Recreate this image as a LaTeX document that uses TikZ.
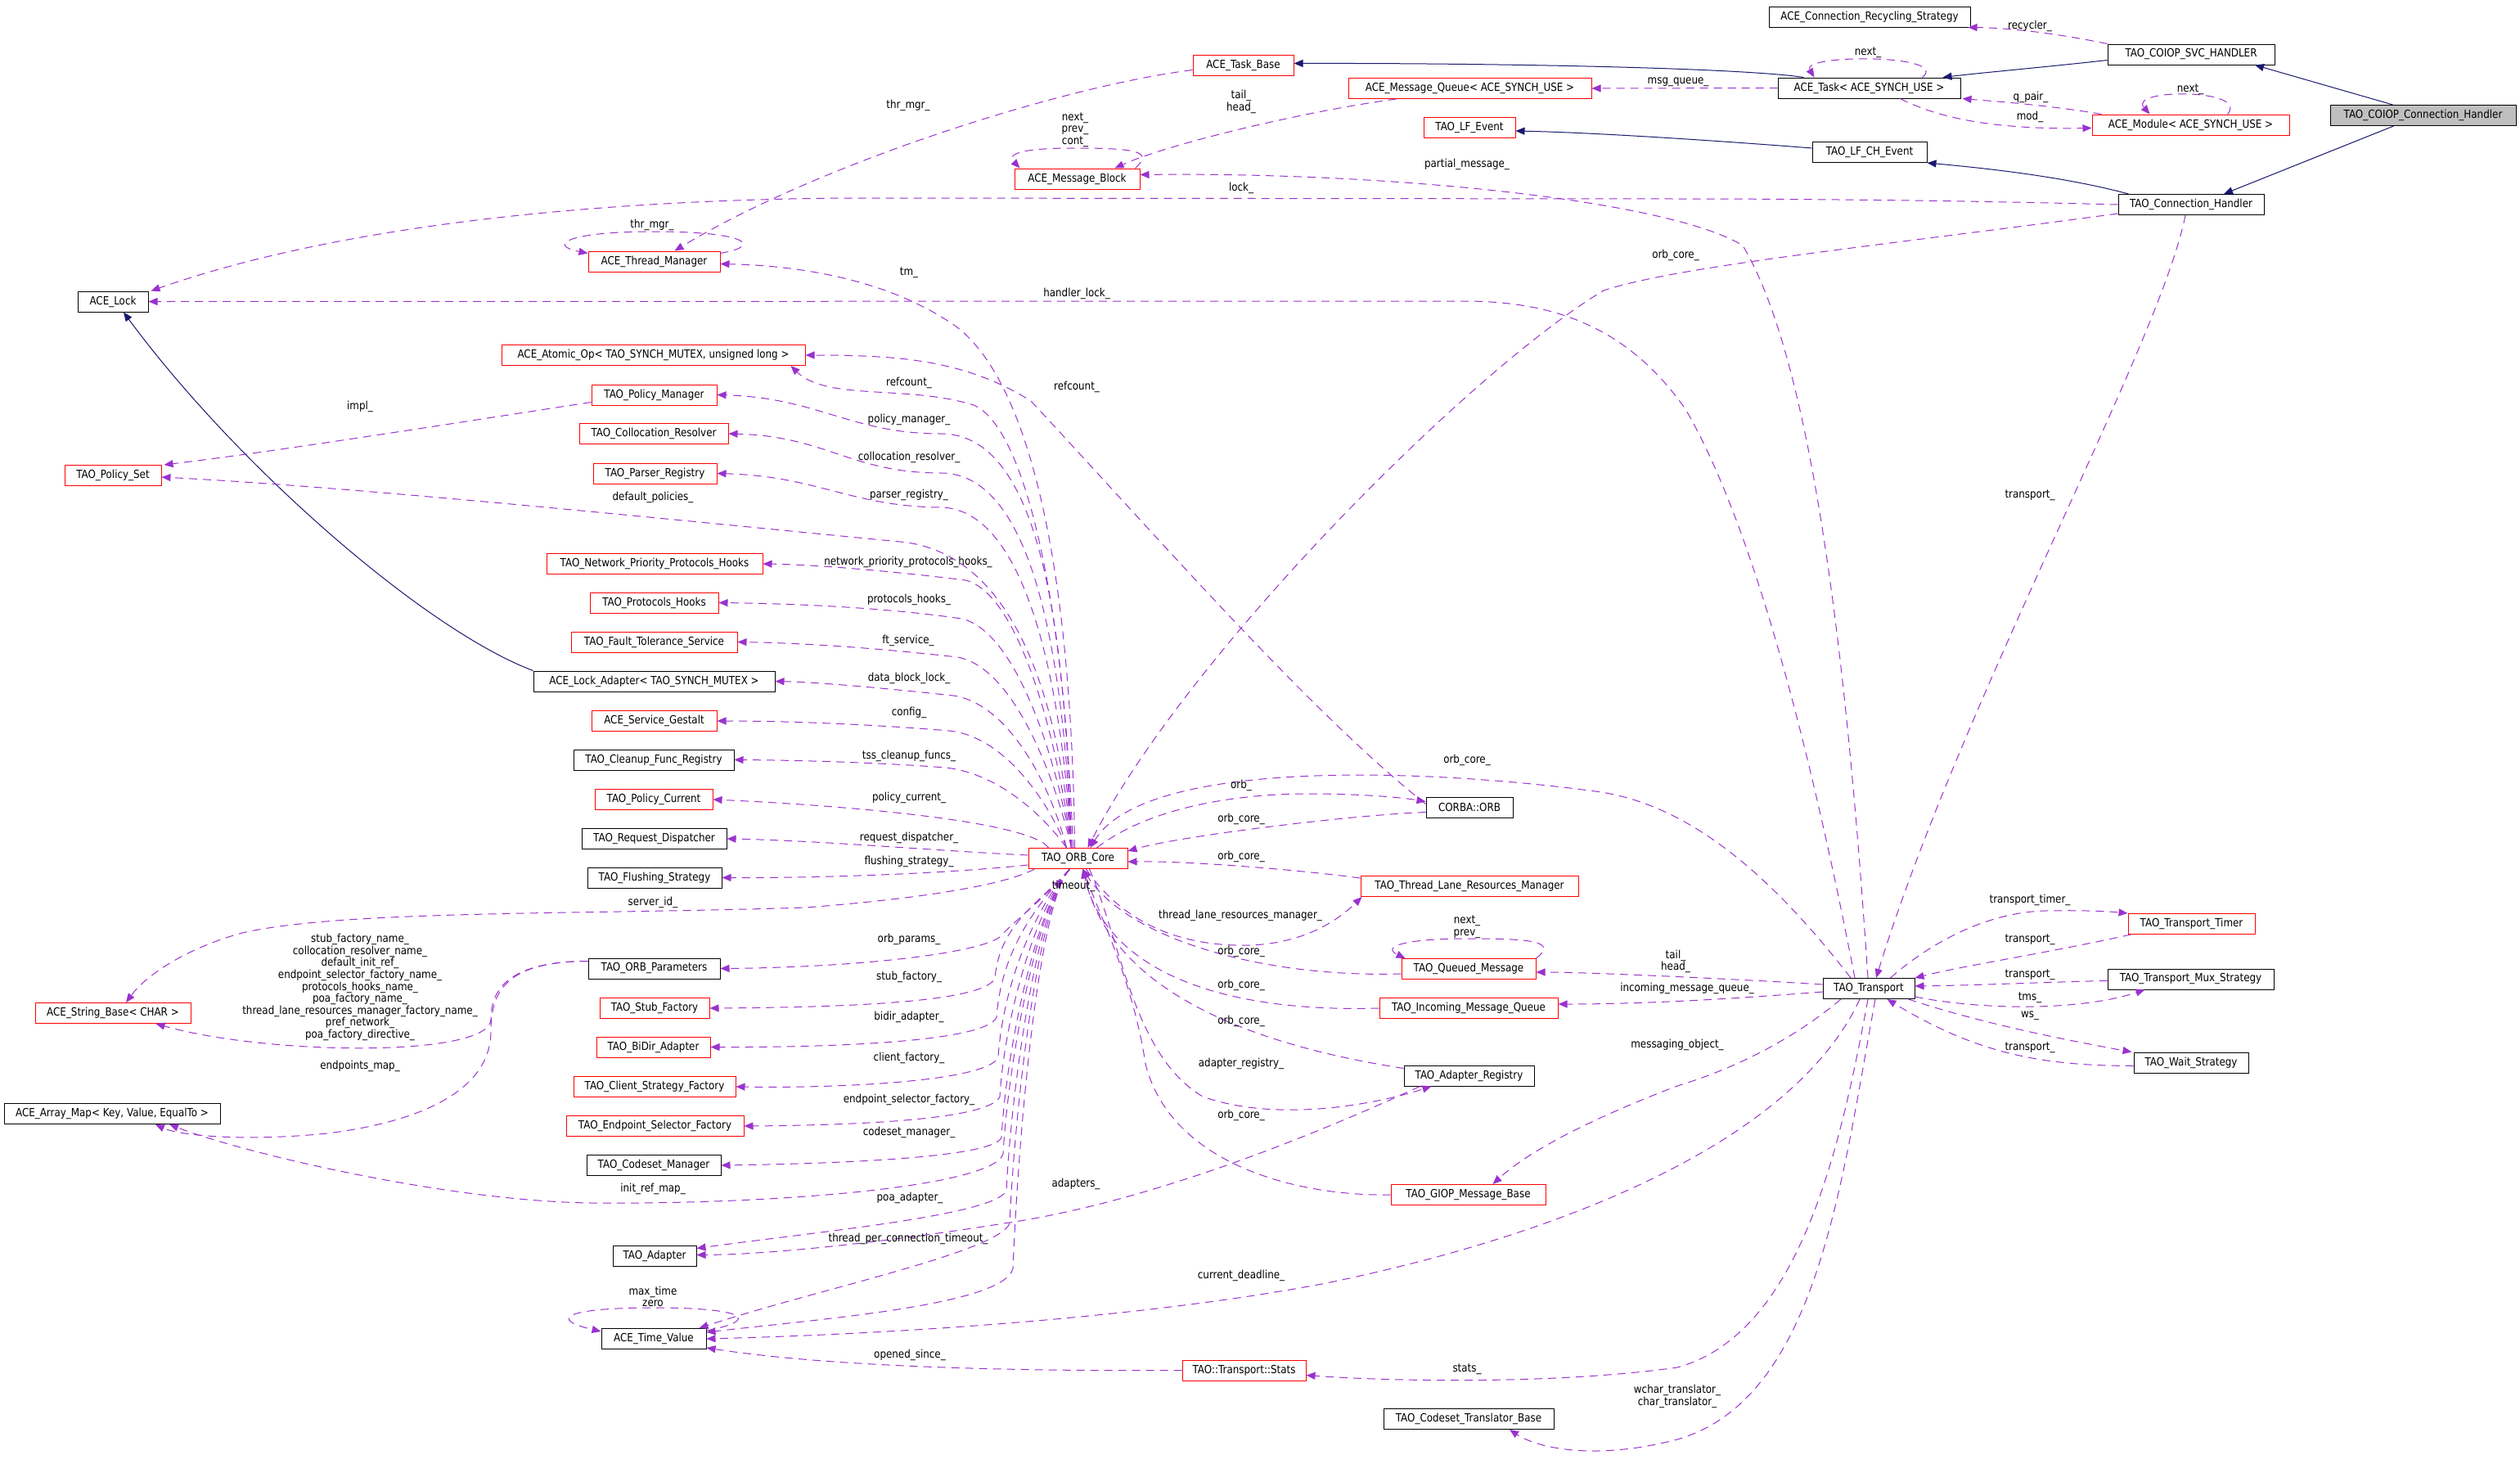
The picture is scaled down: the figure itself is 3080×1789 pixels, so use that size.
\documentclass[tikz,border=0pt]{standalone}
\usepackage{fontspec}
\newfontfamily\dvs[FakeStretch=0.87]{DejaVu Sans}
\newcommand\lbl{\fontsize{6.85pt}{7.3pt}\dvs}
\usetikzlibrary{arrows.meta,calc}
\definecolor{dorch}{HTML}{9A32CD}
\definecolor{navyc}{HTML}{191970}
\tikzset{
 cls/.style={draw=black, line width=0.5pt, minimum height=12.5pt, inner sep=0pt, font=\lbl, anchor=center},
 rcls/.style={cls, draw=red},
 gcls/.style={cls, fill=gray!50},
 lab/.style={inner sep=0pt, font=\lbl, align=center},
 dep/.style={draw=dorch, line width=0.5pt, dash pattern=on 5pt off 3.5pt, -{Triangle[length=5.5pt,width=4.5pt]}},
 inh/.style={draw=navyc, line width=0.5pt, -{Triangle[length=5.5pt,width=4.5pt]}},
}
\begin{document}
\begin{tikzpicture}[x=0.5pt,y=-0.5pt]
\fill[white] (0,0) rectangle (3080,1789);
\useasboundingbox (0,0) rectangle (3080,1789);
% ---------------- nodes ----------------
\node[gcls, minimum width=113.5pt] (coioph) at (2961.5,141) {TAO\_COIOP\_Connection\_Handler};
\node[cls, minimum width=102pt] (svch) at (2678,66.5) {TAO\_COIOP\_SVC\_HANDLER};
\node[cls, minimum width=123pt] (recyc) at (2285,20.5) {ACE\_Connection\_Recycling\_Strategy};
\node[cls, minimum width=111.5pt] (task) at (2284.5,107.5) {ACE\_Task< ACE\_SYNCH\_USE >};
\node[rcls, minimum width=120.5pt] (module) at (2677.5,152.5) {ACE\_Module< ACE\_SYNCH\_USE >};
\node[cls, minimum width=70pt] (lfch) at (2285,186) {TAO\_LF\_CH\_Event};
\node[cls, minimum width=89pt] (conn) at (2678,250) {TAO\_Connection\_Handler};
\node[rcls, minimum width=61.5pt] (taskbase) at (1519.5,79.5) {ACE\_Task\_Base};
\node[rcls, minimum width=148.5pt] (mq) at (1796.5,108) {ACE\_Message\_Queue< ACE\_SYNCH\_USE >};
\node[rcls, minimum width=56pt] (lfe) at (1796,156) {TAO\_LF\_Event};
\node[rcls, minimum width=76.5pt] (mb) at (1316.5,218.5) {ACE\_Message\_Block};
\node[rcls, minimum width=80.5pt] (thrmgr) at (799.5,319.5) {ACE\_Thread\_Manager};
\node[cls, minimum width=43pt] (lock) at (138,368.5) {ACE\_Lock};
\node[rcls, minimum width=185.5pt] (atomic) at (798.5,434) {ACE\_Atomic\_Op< TAO\_SYNCH\_MUTEX, unsigned long >};
\node[rcls, minimum width=76.5pt] (polmgr) at (799.5,482.5) {TAO\_Policy\_Manager};
\node[rcls, minimum width=91pt] (colres) at (799,530) {TAO\_Collocation\_Resolver};
\node[rcls, minimum width=75.5pt] (parser) at (800.5,578.5) {TAO\_Parser\_Registry};
\node[rcls, minimum width=59pt] (polset) at (138,581) {TAO\_Policy\_Set};
\node[rcls, minimum width=132pt] (nph) at (800,689) {TAO\_Network\_Priority\_Protocols\_Hooks};
\node[rcls, minimum width=78.5pt] (ph) at (799.5,736.5) {TAO\_Protocols\_Hooks};
\node[rcls, minimum width=101.5pt] (ft) at (799.5,784.5) {TAO\_Fault\_Tolerance\_Service};
\node[cls, minimum width=147.5pt] (lockad) at (799.5,832.5) {ACE\_Lock\_Adapter< TAO\_SYNCH\_MUTEX >};
\node[rcls, minimum width=76.5pt] (gestalt) at (799.5,881) {ACE\_Service\_Gestalt};
\node[cls, minimum width=98pt] (cleanup) at (799,928.5) {TAO\_Cleanup\_Func\_Registry};
\node[rcls, minimum width=72pt] (polcur) at (799,977) {TAO\_Policy\_Current};
\node[cls, minimum width=88.5pt] (reqd) at (799.5,1025) {TAO\_Request\_Dispatcher};
\node[cls, minimum width=82pt] (flush) at (800,1072.5) {TAO\_Flushing\_Strategy};
\node[cls, minimum width=80.5pt] (orbparams) at (799.5,1183.5) {TAO\_ORB\_Parameters};
\node[rcls, minimum width=67pt] (stubf) at (800,1232) {TAO\_Stub\_Factory};
\node[rcls, minimum width=69.5pt] (bidir) at (798.5,1279.5) {TAO\_BiDir\_Adapter};
\node[rcls, minimum width=99pt] (csf) at (800,1328) {TAO\_Client\_Strategy\_Factory};
\node[rcls, minimum width=108.5pt] (esf) at (800.5,1376) {TAO\_Endpoint\_Selector\_Factory};
\node[cls, minimum width=82pt] (csm) at (799,1424) {TAO\_Codeset\_Manager};
\node[cls, minimum width=51pt] (adapter) at (800,1534.5) {TAO\_Adapter};
\node[cls, minimum width=64pt] (tv) at (799,1636) {ACE\_Time\_Value};
\node[rcls, minimum width=95pt] (strb) at (138,1238) {ACE\_String\_Base< CHAR >};
\node[cls, minimum width=132pt] (amap) at (137,1361) {ACE\_Array\_Map< Key, Value, EqualTo >};
\node[rcls, minimum width=60.5pt] (orbcore) at (1317.5,1049) {TAO\_ORB\_Core};
\node[cls, minimum width=53pt] (corbaorb) at (1796,986.5) {CORBA::ORB};
\node[rcls, minimum width=133pt] (tlrm) at (1796,1083) {TAO\_Thread\_Lane\_Resources\_Manager};
\node[rcls, minimum width=82pt] (qm) at (1795,1184) {TAO\_Queued\_Message};
\node[rcls, minimum width=109pt] (imq) at (1795,1232) {TAO\_Incoming\_Message\_Queue};
\node[cls, minimum width=79.5pt] (areg) at (1795.5,1314.5) {TAO\_Adapter\_Registry};
\node[rcls, minimum width=94.5pt] (giop) at (1794.5,1460) {TAO\_GIOP\_Message\_Base};
\node[rcls, minimum width=75.5pt] (stats) at (1520.5,1674.5) {TAO::Transport::Stats};
\node[cls, minimum width=104pt] (ctb) at (1795,1734) {TAO\_Codeset\_Translator\_Base};
\node[cls, minimum width=56pt] (transport) at (2284,1208) {TAO\_Transport};
\node[rcls, minimum width=77.5pt] (ttimer) at (2678.5,1129) {TAO\_Transport\_Timer};
\node[cls, minimum width=101.5pt] (tmux) at (2677.5,1196.5) {TAO\_Transport\_Mux\_Strategy};
\node[cls, minimum width=70pt] (wait) at (2678,1298.5) {TAO\_Wait\_Strategy};
% ---------------- inheritance ----------------
\draw[inh] ($(coioph.north)+(-37,0)$) -- ($(svch.south)+(78,0)$);
\draw[inh] ($(coioph.south)+(-36,0)$) -- ($(conn.north)+(40,0)$);
\draw[inh] ($(svch.west)+(0,7)$) .. controls (2500,82) and (2430,88) .. ($(task.north east)+(-22,0)$);
\draw[inh] ($(task.north west)+(32,0)$) .. controls (2120,82) and (1800,77) .. ($(taskbase.east)+(0,-2)$);
\draw[inh] ($(conn.north west)+(13,0)$) .. controls (2520,215) and (2420,205) .. (lfch.south east);
\draw[inh] ($(lfch.west)+(0,-5)$) .. controls (2100,172) and (1950,162) .. ($(lfe.east)+(0,4)$);
\draw[inh] (lockad.north west) .. controls (520,770) and (290,570) .. ($(lock.south)+(13,0)$);
% ---------------- top region ----------------
\draw[dep] (svch.north west) .. controls (2520,42) and (2460,34) .. ($(recyc.south east)+(-3,0)$);
\draw[dep] ($(task.north)+(65,0)$) .. controls (2385,66) and (2200,66) .. ($(task.north)+(-67,0)$);
\draw[dep] (task.west) -- (mq.east);
\draw[dep] ($(module.north west)+(12,0)$) .. controls (2500,128) and (2440,124) .. ($(task.south east)+(2,0)$);
\draw[dep] ($(task.south)+(38,0)$) .. controls (2380,150) and (2460,158) .. ($(module.west)+(0,4)$);
\draw[dep] ($(module.north)+(45,0)$) .. controls (2750,108) and (2600,108) .. ($(module.north)+(-50,0)$);
\draw[dep] ($(taskbase.west)+(0,6)$) .. controls (1300,105) and (1000,200) .. ($(thrmgr.north)+(25,0)$);
\draw[dep] ($(thrmgr.east)+(0,-10)$) .. controls (935,300) and (910,283) .. (800,283) .. controls (690,283) and (670,300) .. ($(thrmgr.north west)+(0,3)$);
\draw[dep] ($(mq.south west)+(59,0)$) .. controls (1600,135) and (1430,175) .. ($(mb.north east)+(-31,0)$);
\draw[dep] ($(mb.north east)+(-6,0)$) .. controls (1410,185) and (1390,181) .. (1312,181) .. controls (1240,181) and (1232,190) .. ($(mb.north west)+(7,0)$);
\draw[dep] ($(transport.north)+(-1,0)$) .. controls (2260,850) and (2220,450) .. (2130,300) .. controls (2040,245) and (1700,210) .. ($(mb.east)+(0,-5)$);
\draw[dep] ($(transport.north)+(-17,0)$) .. controls (2200,850) and (2130,620) .. (2060,500) .. controls (1990,400) and (1900,368) .. (1790,368) -- (lock.east);
\draw[dep] (conn.west) .. controls (2400,245) and (2200,243) .. (2050,243) -- (1030,242) .. controls (700,245) and (400,280) .. ($(lock.north east)+(3,0)$);
\draw[dep] ($(conn.south west)+(0,-2)$) .. controls (2300,300) and (2050,325) .. (1960,355) .. controls (1800,450) and (1450,800) .. ($(orbcore.north)+(12,0)$);
\draw[dep] ($(conn.south)+(-7,0)$) .. controls (2640,420) and (2400,850) .. ($(transport.north)+(9,0)$);
% ---------------- ORB core upper fan ----------------
\coordinate (oN) at ($(orbcore.north)+(-8,0)$);
\coordinate (oN2) at ($(orbcore.north)+(-14,0)$);
\coordinate (oS) at ($(orbcore.south)+(-10,0)$);
\draw[dep] ($(orbcore.north)+(-4,0)$) .. controls (1310,700) and (1260,470) .. (1170,400) .. controls (1100,350) and (1000,325) .. ($(thrmgr.east)+(0,3)$);
\draw[dep] ($(orbcore.north)+(-6,0)$) .. controls (1300,720) and (1250,520) .. (1190,495) .. controls (1110,470) and (1010,490) .. ($(atomic.south east)+(-18,0)$);
\draw[dep] ($(corbaorb.west)+(0,-4)$) .. controls (1600,870) and (1400,640) .. (1260,490) .. controls (1180,440) and (1100,434) .. (atomic.east);
\draw[dep] (oN) .. controls (1302,760) and (1270,530) .. (1150,530) .. controls (1040,530) and (1000,486) .. (polmgr.east);
\draw[dep] (oN) .. controls (1300,800) and (1262,578) .. (1150,578) .. controls (1040,578) and (1010,533) .. (colres.east);
\draw[dep] (oN) .. controls (1298,840) and (1255,622) .. (1150,620) .. controls (1040,619) and (1000,582) .. (parser.east);
\draw[dep] (oN) .. controls (1296,870) and (1245,675) .. (1100,662) .. controls (850,638) and (450,596) .. ($(polset.east)+(0,2)$);
\draw[dep] (oN) .. controls (1292,900) and (1245,725) .. (1180,709) .. controls (1100,699) and (1000,690) .. (nph.east);
\draw[dep] (oN) .. controls (1290,920) and (1240,770) .. (1175,756) .. controls (1100,745) and (1000,738) .. (ph.east);
\draw[dep] (oN) .. controls (1288,945) and (1238,815) .. (1170,803) .. controls (1100,795) and (1000,786) .. (ft.east);
\draw[dep] (oN2) .. controls (1286,965) and (1235,860) .. (1165,850) .. controls (1100,843) and (1010,834) .. (lockad.east);
\draw[dep] (oN2) .. controls (1284,985) and (1230,900) .. (1160,893) .. controls (1090,887) and (980,881) .. (gestalt.east);
\draw[dep] (oN2) .. controls (1282,1005) and (1225,945) .. (1155,938) .. controls (1080,932) and (980,929) .. (cleanup.east);
\draw[dep] ($(orbcore.north west)+(25,0)$) .. controls (1260,1005) and (1050,985) .. (polcur.east);
\draw[dep] ($(orbcore.west)+(0,-4)$) .. controls (1150,1040) and (1000,1027) .. (reqd.east);
\draw[dep] ($(orbcore.west)+(0,8)$) .. controls (1150,1068) and (1000,1073) .. (flush.east);
\draw[dep] ($(orbcore.south west)+(8,0)$) .. controls (1220,1085) and (1100,1100) .. (985,1109) .. controls (700,1118) and (420,1112) .. (296,1140) .. controls (230,1158) and (180,1190) .. ($(strb.north)+(16,0)$);
% ---------------- ORB core lower fan ----------------
\draw[dep] (oS) .. controls (1280,1095) and (1240,1125) .. (1222,1145) .. controls (1195,1165) and (1050,1182) .. (orbparams.east);
\draw[dep] (oS) .. controls (1268,1105) and (1222,1130) .. (1216,1195) .. controls (1205,1225) and (1030,1231) .. (stubf.east);
\draw[dep] (oS) .. controls (1268,1105) and (1224,1160) .. (1218,1243) .. controls (1206,1272) and (1030,1280) .. (bidir.east);
\draw[dep] (oS) .. controls (1268,1105) and (1226,1200) .. (1220,1292) .. controls (1208,1320) and (1040,1330) .. (csf.east);
\draw[dep] (oS) .. controls (1268,1105) and (1228,1240) .. (1222,1340) .. controls (1210,1368) and (1050,1375) .. (esf.east);
\draw[dep] (oS) .. controls (1268,1105) and (1230,1280) .. (1224,1390) .. controls (1214,1415) and (1020,1422) .. (csm.east);
\draw[dep] (oS) .. controls (1268,1105) and (1232,1300) .. (1226,1410) .. controls (1214,1450) and (950,1472) .. (723,1470) .. controls (550,1468) and (300,1410) .. ($(amap.south)+(70,0)$);
\draw[dep] (oS) .. controls (1268,1105) and (1236,1330) .. (1230,1455) .. controls (1216,1485) and (1000,1505) .. ($(adapter.east)+(0,-9)$);
\draw[dep] (oS) .. controls (1268,1105) and (1240,1360) .. (1234,1495) .. controls (1220,1530) and (1000,1575) .. ($(tv.north east)+(-9,0)$);
\draw[dep] (oS) .. controls (1268,1105) and (1244,1400) .. (1238,1550) .. controls (1228,1595) and (1000,1612) .. ($(tv.east)+(0,-8)$);
% ---------------- right of ORB core ----------------
\draw[dep] ($(orbcore.north east)+(-38,0)$) .. controls (1400,990) and (1500,970) .. (1600,970) .. controls (1660,970) and (1710,974) .. ($(corbaorb.west)+(0,-7)$);
\draw[dep] ($(corbaorb.west)+(0,6)$) .. controls (1650,996) and (1440,1022) .. ($(orbcore.east)+(0,-9)$);
\draw[dep] ($(tlrm.north west)+(0,3)$) .. controls (1580,1062) and (1450,1052) .. ($(orbcore.east)+(0,4)$);
\draw[dep] ($(orbcore.south)+(10,0)$) .. controls (1360,1110) and (1420,1158) .. (1529,1155) .. controls (1600,1152) and (1640,1120) .. ($(tlrm.south west)+(2,0)$);
\draw[dep] ($(transport.north)+(-22,0)$) .. controls (2150,1050) and (2050,980) .. (1950,967) .. controls (1750,940) and (1400,925) .. ($(orbcore.north)+(15,0)$);
\draw[dep] ($(qm.west)+(0,6)$) .. controls (1550,1195) and (1380,1150) .. ($(orbcore.south)+(6,0)$);
\draw[dep] (imq.west) .. controls (1480,1238) and (1350,1180) .. ($(orbcore.south)+(6,0)$);
\draw[dep] ($(areg.north west)+(0,4)$) .. controls (1550,1280) and (1360,1220) .. ($(orbcore.south)+(6,0)$);
\draw[dep] (giop.west) .. controls (1580,1462) and (1430,1420) .. (1400,1300) .. controls (1385,1200) and (1345,1120) .. ($(orbcore.south)+(6,0)$);
\draw[dep] ($(orbcore.south)+(14,0)$) .. controls (1370,1150) and (1385,1290) .. (1470,1340) .. controls (1560,1372) and (1680,1350) .. ($(areg.south)+(-46,0)$);
\draw[dep] ($(areg.south west)+(20,0)$) .. controls (1600,1390) and (1400,1470) .. (1227,1495) .. controls (1100,1515) and (950,1533) .. ($(adapter.east)+(0,-1)$);
\draw[dep] ($(qm.north east)$) .. controls (1905,1150) and (1870,1147) .. (1795,1147) .. controls (1710,1147) and (1690,1158) .. ($(qm.north west)+(5,0)$);
% ---------------- transport ----------------
\draw[dep] ($(transport.west)+(0,-5)$) .. controls (2150,1198) and (1950,1188) .. ($(qm.east)+(0,4)$);
\draw[dep] ($(transport.west)+(0,4)$) .. controls (2100,1222) and (2000,1227) .. ($(imq.east)+(0,-5)$);
\draw[dep] ($(transport.south)+(-34,0)$) .. controls (2180,1280) and (2100,1312) .. (2050,1327) .. controls (1950,1365) and (1870,1405) .. ($(giop.north)+(30,0)$);
\draw[dep] ($(transport.south)+(-11,0)$) .. controls (2200,1380) and (1950,1500) .. (1621,1568) .. controls (1400,1610) and (1100,1630) .. (tv.east);
\draw[dep] ($(transport.south)+(-1,0)$) .. controls (2250,1400) and (2200,1630) .. (2050,1671) .. controls (1900,1692) and (1700,1688) .. ($(stats.east)+(0,6)$);
\draw[dep] ($(transport.south)+(8,0)$) .. controls (2250,1450) and (2220,1710) .. (2050,1759) .. controls (1950,1785) and (1880,1770) .. ($(ctb.south)+(50,0)$);
\draw[dep] (stats.west) .. controls (1200,1676) and (1000,1668) .. ($(tv.east)+(0,11)$);
\draw[dep] ($(tv.north east)+(0,3)$) .. controls (935,1612) and (905,1598) .. (800,1598) .. controls (690,1598) and (670,1612) .. ($(tv.north west)+(0,4)$);
\draw[dep] ($(transport.north east)+(-30,0)$) .. controls (2350,1160) and (2420,1115) .. (2500,1113) .. controls (2550,1112) and (2580,1114) .. (ttimer.north west);
\draw[dep] ($(ttimer.south west)+(4,0)$) .. controls (2500,1165) and (2400,1180) .. (transport.north east);
\draw[dep] ($(tmux.west)+(0,2)$) .. controls (2500,1200) and (2420,1204) .. ($(transport.east)+(0,-3)$);
\draw[dep] ($(transport.east)+(0,10)$) .. controls (2420,1234) and (2540,1236) .. ($(tmux.south west)+(46,0)$);
\draw[dep] ($(transport.south east)+(-8,0)$) .. controls (2420,1250) and (2520,1270) .. ($(wait.north west)+(-2,0)$);
\draw[dep] ($(wait.west)+(0,4)$) .. controls (2500,1302) and (2420,1290) .. ($(transport.south east)+(-34,0)$);
% ---------------- left misc ----------------
\draw[dep] ($(polmgr.west)+(0,9)$) .. controls (600,510) and (350,550) .. ($(polset.north east)+(3,0)$);
\draw[dep] ($(orbparams.west)+(0,-9)$) .. controls (620,1175) and (600,1210) .. (600,1246) .. controls (598,1292) and (330,1290) .. ($(strb.south east)+(-43,0)$);
\draw[dep] ($(orbparams.west)+(0,-9)$) .. controls (620,1175) and (600,1210) .. (600,1260) .. controls (600,1330) and (520,1370) .. (400,1385) .. controls (300,1395) and (220,1388) .. ($(amap.south)+(53,0)$);
% ---------------- labels ----------------
\node[lab] (l1) at (2481,32) {recycler\_};
\node[lab] (l2) at (2283,64) {next\_};
\node[lab] (l3) at (2051,100) {msg\_queue\_};
\node[lab] (l4) at (2482,119) {q\_pair\_};
\node[lab] (l5) at (2481,143) {mod\_};
\node[lab] (l6) at (2677,109) {next\_};
\node[lab] (l7) at (1110,129) {thr\_mgr\_};
\node[lab] (l8) at (797,275) {thr\_mgr\_};
\node[lab] (l9) at (1517,124.5) {tail\_\\head\_};
\node[lab] (l10) at (1314,158.5) {next\_\\prev\_\\cont\_};
\node[lab] (l11) at (1793,201) {partial\_message\_};
\node[lab] (l12) at (1517,230) {lock\_};
\node[lab] (l13) at (2048,312) {orb\_core\_};
\node[lab] (l14) at (1111,333) {tm\_};
\node[lab] (l15) at (1316,359) {handler\_lock\_};
\node[lab] (l16) at (1111,468) {refcount\_};
\node[lab] (l17) at (1316,473) {refcount\_};
\node[lab] (l18) at (440,497) {impl\_};
\node[lab] (l19) at (1111,513) {policy\_manager\_};
\node[lab] (l20) at (1111,559) {collocation\_resolver\_};
\node[lab] (l21) at (1111,605) {parser\_registry\_};
\node[lab] (l22) at (798,608) {default\_policies\_};
\node[lab] (l23) at (2481,605) {transport\_};
\node[lab] (l24) at (1110,687) {network\_priority\_protocols\_hooks\_};
\node[lab] (l25) at (1111,733) {protocols\_hooks\_};
\node[lab] (l26) at (1110,783) {ft\_service\_};
\node[lab] (l27) at (1111,829) {data\_block\_lock\_};
\node[lab] (l28) at (1111,871) {config\_};
\node[lab] (l29) at (1111,924) {tss\_cleanup\_funcs\_};
\node[lab] (l30) at (1793,929) {orb\_core\_};
\node[lab] (l31) at (1517,960) {orb\_};
\node[lab] (l32) at (1111,975) {policy\_current\_};
\node[lab] (l33) at (1517,1001) {orb\_core\_};
\node[lab] (l34) at (1111,1024) {request\_dispatcher\_};
\node[lab] (l35) at (1517,1047) {orb\_core\_};
\node[lab] (l36) at (1111,1053) {flushing\_strategy\_};
\node[lab] (l37) at (1312,1083) {timeout\_};
\node[lab] (l38) at (2481,1100) {transport\_timer\_};
\node[lab] (l39) at (798,1103) {server\_id\_};
\node[lab] (l40) at (1516,1119) {thread\_lane\_resources\_manager\_};
\node[lab] (l41) at (1793,1132.5) {next\_\\prev\_};
\node[lab] (l42) at (1111,1148) {orb\_params\_};
\node[lab] (l43) at (2481,1148) {transport\_};
\node[lab] (l44) at (440,1206.5) {stub\_factory\_name\_\\collocation\_resolver\_name\_\\default\_init\_ref\_\\endpoint\_selector\_factory\_name\_\\protocols\_hooks\_name\_\\poa\_factory\_name\_\\thread\_lane\_resources\_manager\_factory\_name\_\\pref\_network\_\\poa\_factory\_directive\_};
\node[lab] (l45) at (1517,1163) {orb\_core\_};
\node[lab] (l46) at (2048,1175) {tail\_\\head\_};
\node[lab] (l47) at (2481,1191) {transport\_};
\node[lab] (l48) at (1111,1194) {stub\_factory\_};
\node[lab] (l49) at (1517,1204) {orb\_core\_};
\node[lab] (l50) at (2062,1208) {incoming\_message\_queue\_};
\node[lab] (l51) at (2481,1219) {tms\_};
\node[lab] (l52) at (2481,1241) {ws\_};
\node[lab] (l53) at (1111,1243) {bidir\_adapter\_};
\node[lab] (l54) at (1517,1248) {orb\_core\_};
\node[lab] (l55) at (2050,1277) {messaging\_object\_};
\node[lab] (l56) at (2481,1280) {transport\_};
\node[lab] (l57) at (1111,1293) {client\_factory\_};
\node[lab] (l58) at (1517,1300) {adapter\_registry\_};
\node[lab] (l59) at (440,1303) {endpoints\_map\_};
\node[lab] (l60) at (1111,1344) {endpoint\_selector\_factory\_};
\node[lab] (l61) at (1517,1363) {orb\_core\_};
\node[lab] (l62) at (1111,1384) {codeset\_manager\_};
\node[lab] (l63) at (1315,1447) {adapters\_};
\node[lab] (l64) at (798,1453) {init\_ref\_map\_};
\node[lab] (l65) at (1112,1464) {poa\_adapter\_};
\node[lab] (l66) at (1110,1514) {thread\_per\_connection\_timeout\_};
\node[lab] (l67) at (1517,1559) {current\_deadline\_};
\node[lab] (l68) at (798,1584.5) {max\_time\\zero};
\node[lab] (l69) at (1112,1656) {opened\_since\_};
\node[lab] (l70) at (1793,1673) {stats\_};
\node[lab] (l71) at (2050,1706.5) {wchar\_translator\_\\char\_translator\_};
\end{tikzpicture}
\end{document}
